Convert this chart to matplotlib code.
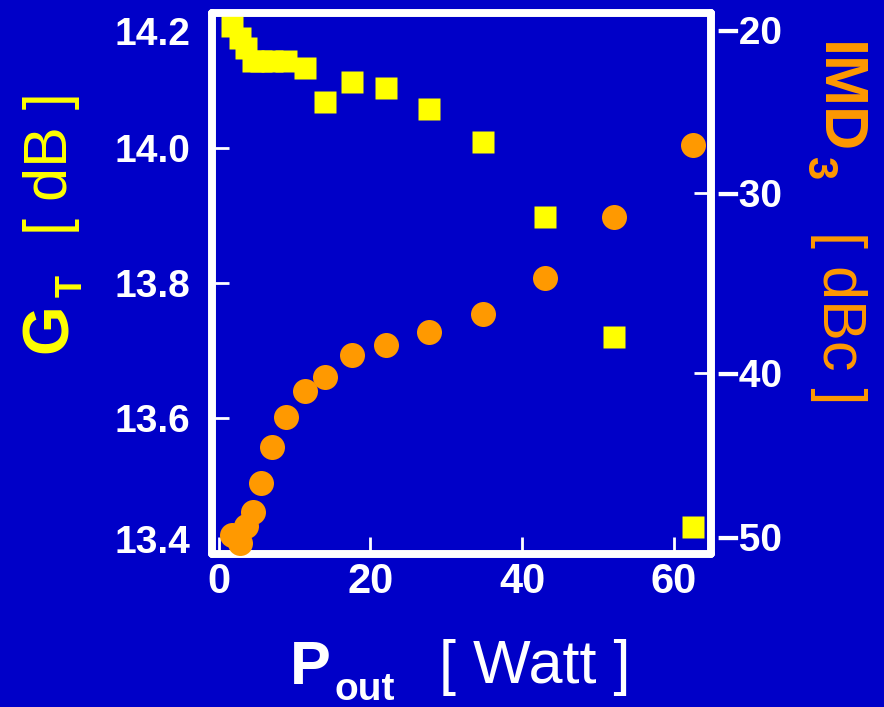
import matplotlib
matplotlib.use("Agg")
import matplotlib.pyplot as plt
import matplotlib.transforms as mtransforms

# -------------------------
# Data
# -------------------------
p_out = [1.8, 2.8, 3.6, 4.5, 5.5, 7.0, 8.9, 11.3, 14.0, 17.5, 22.1, 27.7, 34.8, 43.0, 52.1, 62.5]
gain_db = [14.181, 14.163, 14.149, 14.129, 14.129, 14.129, 14.129, 14.119,
           14.069, 14.099, 14.089, 14.058, 14.010, 13.899, 13.720, 13.439]
imd3_dbc = [-49.0, -49.4, -48.5, -47.7, -46.1, -44.1, -42.4, -41.0,
            -40.2, -39.0, -38.4, -37.7, -36.7, -34.7, -31.3, -27.3]

x_ticks = [0, 20, 40, 60]
g_ticks = [13.4, 13.6, 13.8, 14.0, 14.2]
imd_ticks = [-50, -40, -30, -20]

BG = "#0000c8"
YELLOW = "#ffff00"
ORANGE = "#ff9900"
FONT = ["Liberation Sans", "DejaVu Sans"]

fig = plt.figure(figsize=(8.84, 7.07), dpi=100, facecolor=BG)
W, H = 884, 707
ax = fig.add_axes([212 / W, 1 - 553.5 / H, 499 / W, 540.2 / H])
ax.set_facecolor(BG)
ax2 = ax.twinx()

ax.plot(p_out, gain_db, ls="none", marker="s", ms=16.5, color=YELLOW,
        mec="none", clip_on=True, zorder=3)
ax2.plot(p_out, imd3_dbc, ls="none", marker="o", ms=18, color=ORANGE,
         mec="none", clip_on=False, zorder=3)

ax.set_xlim(-0.9, 64.9)
ax.set_ylim(13.4, 14.2)
ax2.set_ylim(-50, -20)

for a in (ax, ax2):
    for s in a.spines.values():
        s.set_color("white")
        s.set_linewidth(5.5)
        s.set_capstyle("round")

ax.set_xticks(x_ticks)
ax.set_yticks(g_ticks)
ax.set_yticklabels([f"{v:.1f}" for v in g_ticks])
ax2.set_yticks(imd_ticks)
ax2.set_yticklabels([f"\u2212{abs(v)}" for v in imd_ticks])

ax.tick_params(axis="x", direction="in", length=12, width=2, color="white",
               labelcolor="white", labelsize=30, pad=6, top=False)
ax.tick_params(axis="y", direction="in", length=12, width=2, color="white",
               labelcolor="white", labelsize=28, pad=15.5)
ax2.tick_params(axis="y", direction="in", length=12, width=2, color="white",
                labelcolor="white", labelsize=28, pad=4)

for lab in ax.get_yticklabels() + ax2.get_yticklabels() + ax.get_xticklabels():
    lab.set_fontfamily(FONT)
    lab.set_fontweight("bold")

# end labels sit a bit inside the frame
def shift(lab, dy_px):
    off = mtransforms.ScaledTranslation(0, dy_px / 100, fig.dpi_scale_trans)
    lab.set_transform(lab.get_transform() + off)

gl = ax.get_yticklabels()
shift(gl[0], 15)
shift(gl[-1], -18)
il = ax2.get_yticklabels()
shift(il[0], 16)
shift(il[-1], -17)

# -------------------------
# Axis titles
# -------------------------
def ftext(x, y, s, **kw):
    fig.text(x / W, 1 - y / H, s, family=FONT, **kw)

# left: G_T [ dB ]
ftext(50, 328, "G", color=YELLOW, fontsize=46, fontweight="bold",
      rotation=90, ha="center", va="center")
ftext(72, 286, "T", color=YELLOW, fontsize=26, fontweight="bold",
      rotation=90, ha="center", va="center")
ftext(52, 164, "[ dB ]", color=YELLOW, fontsize=44,
      rotation=90, ha="center", va="center")

# right: IMD_3 [ dBc ]
ftext(836, 98, "IMD", color=ORANGE, fontsize=44, fontweight="bold",
      rotation=270, ha="center", va="center")
ftext(818, 168, "3", color=ORANGE, fontsize=30, fontweight="bold",
      rotation=270, ha="center", va="center")
ftext(838, 318, "[ dBc ]", color=ORANGE, fontsize=44,
      rotation=270, ha="center", va="center")

# bottom: P_out [ Watt ]
ftext(310, 668, "P", color="white", fontsize=44, fontweight="bold",
      ha="center", va="center")
ftext(365, 690, "out", color="white", fontsize=28, fontweight="bold",
      ha="center", va="center")
ftext(535, 668, "[ Watt ]", color="white", fontsize=44,
      ha="center", va="center")

fig.savefig("out.png", dpi=100, facecolor=BG)
